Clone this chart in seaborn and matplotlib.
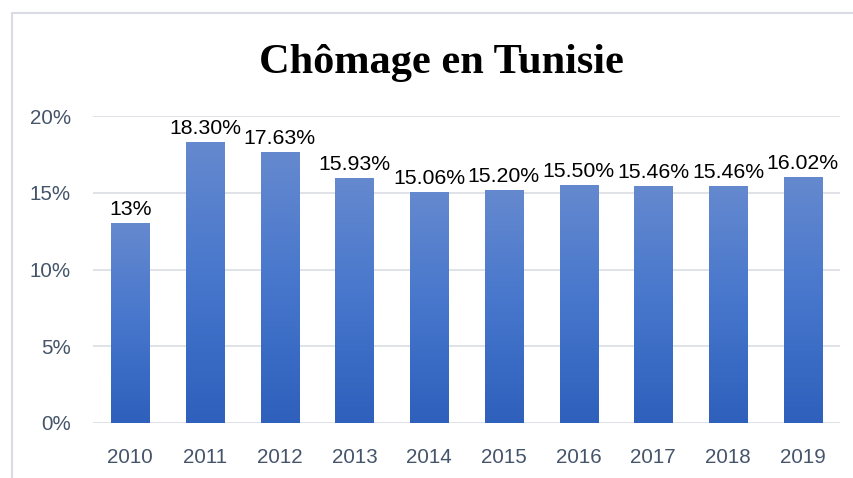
import numpy as np
import pandas as pd
import matplotlib.pyplot as plt
import seaborn as sns
from matplotlib.colors import LinearSegmentedColormap
from matplotlib.lines import Line2D

years = ['2010', '2011', '2012', '2013', '2014', '2015', '2016', '2017', '2018', '2019']
chomage = [13.0, 18.30, 17.63, 15.93, 15.06, 15.20, 15.50, 15.46, 15.46, 16.02]
labels = ['13%', '18.30%', '17.63%', '15.93%', '15.06%', '15.20%', '15.50%', '15.46%', '15.46%', '16.02%']

df = pd.DataFrame({'annee': years, 'taux': chomage})

sns.set_style('white')
plt.rcParams['font.family'] = ['Liberation Sans', 'DejaVu Sans']

fig = plt.figure(figsize=(8.54, 4.78), dpi=100)
ax = fig.add_axes([93 / 854, 1 - 423 / 478, (840 - 93) / 854, (423 - 116) / 478])

sns.barplot(x='annee', y='taux', data=df, color='#4472c4', width=0.51, ax=ax, zorder=2)

# gradient fill per bar
cmap = LinearSegmentedColormap.from_list('bleu', ['#2e60bc', '#4676cc', '#6589cf'])
grad = np.linspace(0, 1, 256).reshape(-1, 1)
for p in ax.patches:
    x0, y0 = p.get_x(), p.get_y()
    w, h = p.get_width(), p.get_height()
    p.set_facecolor('none')
    p.set_edgecolor('none')
    im = ax.imshow(grad, cmap=cmap, origin='lower', aspect='auto',
                   extent=[x0, x0 + w, y0, y0 + h], zorder=2)
    im.set_clip_path(p)
ax.set_ylim(0, 20)
ax.set_xlim(-0.5, len(years) - 0.5)

for i, (v, lab) in enumerate(zip(chomage, labels)):
    ax.annotate(lab, (i, v), xytext=(0, 3), textcoords='offset points',
                ha='center', va='bottom', fontsize=15.3, color='black')

ax.set_yticks([0, 5, 10, 15, 20])
ax.set_yticklabels(['0%', '5%', '10%', '15%', '20%'])
ax.yaxis.grid(True, color='#d9dde3', linewidth=1.2, zorder=0)
ax.set_axisbelow(True)
for s in ax.spines.values():
    s.set_visible(False)
ax.tick_params(axis='both', length=0, labelsize=14.8, labelcolor='#44546a')
ax.tick_params(axis='y', pad=16)
ax.tick_params(axis='x', pad=18)
ax.set_xlabel('')
ax.set_ylabel('')

fig.text(441 / 854, 1 - 63 / 478, 'Chômage en Tunisie', ha='center', va='center',
         fontsize=30.5, fontweight='bold', color='black',
         family=['Liberation Serif', 'DejaVu Serif'])

# chart frame
fig.add_artist(Line2D([12 / 854, 12 / 854], [0, 1 - 13 / 478], color='#d9dde3', linewidth=1.5))
fig.add_artist(Line2D([12 / 854, 1], [1 - 13 / 478, 1 - 13 / 478], color='#d9dde3', linewidth=1.5))

fig.savefig('out.png', dpi=100)
